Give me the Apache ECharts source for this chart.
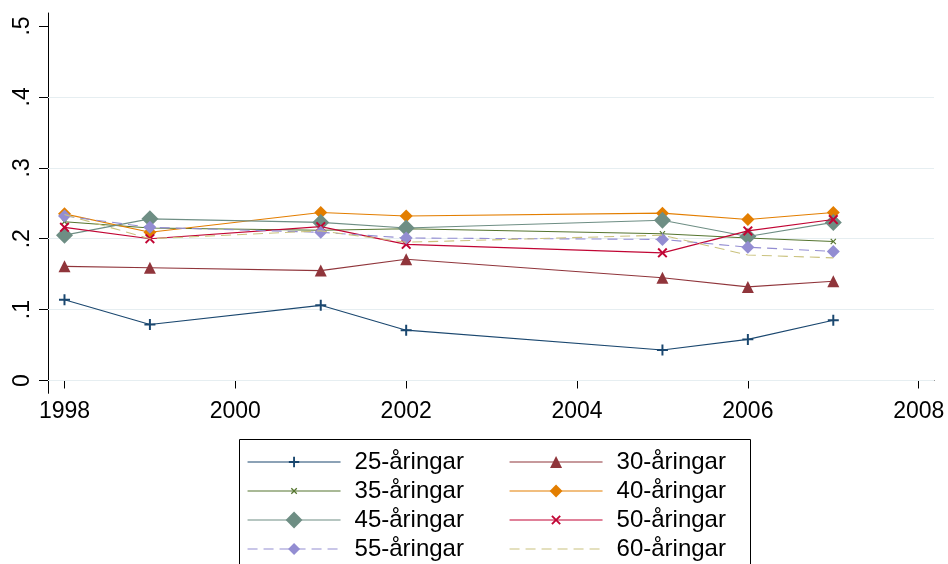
<!DOCTYPE html>
<html>
<head>
<meta charset="utf-8">
<script src="https://cdn.jsdelivr.net/npm/echarts@6/dist/echarts.min.js"></script>
<style>
html,body{margin:0;padding:0;background:#fff;}
#c{width:948px;height:564px;}
</style>
</head>
<body>
<div id="c"></div>
<script>
// ---- data ----
var years = [1998, 1999, 2001, 2002, 2005, 2006, 2007];
var xTicks = [1998, 2000, 2002, 2004, 2006, 2008];
var yTicks = [0, 0.1, 0.2, 0.3, 0.4, 0.5];
var gridValues = [0, 0.1, 0.2, 0.3, 0.4];
var seriesNames = ['25-åringar','30-åringar','35-åringar','40-åringar','45-åringar','50-åringar','55-åringar','60-åringar'];
var s25 = [0.114, 0.079, 0.106, 0.071, 0.043, 0.058, 0.085];
var s30 = [0.161, 0.159, 0.155, 0.171, 0.145, 0.132, 0.140];
var s35 = [0.224, 0.215, 0.212, 0.214, 0.207, 0.201, 0.196];
var s40 = [0.235, 0.209, 0.237, 0.232, 0.236, 0.227, 0.237];
var s45 = [0.205, 0.228, 0.223, 0.215, 0.226, 0.203, 0.223];
var s50 = [0.216, 0.200, 0.217, 0.192, 0.180, 0.211, 0.227];
var s55 = [0.232, 0.216, 0.209, 0.201, 0.199, 0.188, 0.182];
var s60 = [0.234, 0.200, 0.211, 0.195, 0.205, 0.177, 0.173];
var values = [s25, s30, s35, s40, s45, s50, s55, s60];

// ---- styles ----
var FONT = 'Liberation Sans, Arial, sans-serif';
var PLUS = 'path://M4.1,0H5.9V4.1H10V5.9H5.9V10H4.1V5.9H0V4.1H4.1Z';
var CROSS = 'path://M0,1.4L1.4,0L5,3.6L8.6,0L10,1.4L6.4,5L10,8.6L8.6,10L5,6.4L1.4,10L0,8.6L3.6,5Z';
var styles = [
  {color:'#1a476f', symbol:PLUS, size:11, dash:'solid', legH:13},
  {color:'#90353b', symbol:'triangle', size:12, dash:'solid', legH:15},
  {color:'#55752f', symbol:CROSS, size:6, dash:'solid', legH:8},
  {color:'#e37e00', symbol:'diamond', size:13, dash:'solid', legH:16},
  {color:'#6e8e84', symbol:'diamond', size:17, dash:'solid', legH:21},
  {color:'#c10534', symbol:CROSS, size:10, dash:'solid', legH:12},
  {color:'#938dd2', symbol:'diamond', size:13, dash:[10,6], legH:15},
  {color:'#cac27e', symbol:'none', size:0, dash:[10,6], legH:12}
];

function pairs(v){ return years.map(function(y,i){ return [y, v[i]]; }); }

var series = seriesNames.map(function(n, i){
  var st = styles[i];
  var s = {
    name: n, type: 'line', data: pairs(values[i]),
    symbol: st.symbol, symbolSize: st.size, showSymbol: st.symbol !== 'none',
    lineStyle: {color: st.color, width: 1.1, type: st.dash},
    itemStyle: {color: st.color},
    emphasis: {disabled: true}, animation: false, z: 3 + i
  };
  if (i === 0) {
    s.markLine = {
      silent: true, symbol: 'none', label: {show:false}, animation:false,
      lineStyle: {color:'#e6eef1', width:1, type:'solid'},
      data: gridValues.map(function(g){ return {yAxis: g}; }),
      z: 1
    };
  }
  return s;
});

// legends: 2 columns x 4 rows
var rowCenters = [462, 491, 520, 549];
var colLeft = [247, 509];
var legends = seriesNames.map(function(n, i){
  var row = Math.floor(i / 2), col = i % 2;
  var lg = {
    data: [n], left: colLeft[col], top: rowCenters[row] - 13,
    orient: 'vertical', padding: 0, itemWidth: 93, itemHeight: styles[i].legH,
    itemGap: 0, selectedMode: false,
    textStyle: {fontFamily: FONT, fontSize: 24, color:'#000', lineHeight: 26, padding:[0,0,0,9]},
    lineStyle: {width: 1.1}
  };
  if (styles[i].symbol === 'none') {
    lg.itemStyle = {opacity: 0, color: 'rgba(0,0,0,0)', borderWidth: 0};
  }
  return lg;
});

var chart = echarts.init(document.getElementById('c'), null, {renderer:'canvas'});
chart.setOption({
  backgroundColor: '#fff',
  animation: false,
  grid: {left: 48, right: 14, top: 13, bottom: 170.7, containLabel: false},
  xAxis: {
    type: 'value', min: 1997.807, max: 2008.179,
    axisLine: {show: true, lineStyle: {color:'#000', width: 1}},
    axisTick: {show: true, length: 8, customValues: xTicks, lineStyle:{color:'#000'}},
    axisLabel: {show: true, customValues: xTicks, margin: 7, fontFamily: FONT, fontSize: 23, color:'#000',
      formatter: function(v){ return String(Math.round(v)); }},
    splitLine: {show: false}
  },
  yAxis: {
    type: 'value', min: -0.01805, max: 0.5183,
    axisLine: {show: true, lineStyle: {color:'#000', width: 1}},
    axisTick: {show: true, length: 9, customValues: yTicks, lineStyle:{color:'#000'}},
    axisLabel: {show: true, customValues: yTicks, rotate: 90, margin: 14, fontFamily: FONT, fontSize: 23, color:'#000',
      formatter: function(v){ var r = Math.round(v*10)/10; return r === 0 ? '0' : String(r).replace(/^0/, ''); }},
    splitLine: {show: false}
  },
  legend: legends,
  graphic: [{
    type: 'rect', left: 237, top: 437, shape: {width: 511, height: 140},
    style: {fill: 'none', stroke: '#000', lineWidth: 1}, silent: true, z: 0
  }],
  series: series
});
</script>
</body>
</html>
